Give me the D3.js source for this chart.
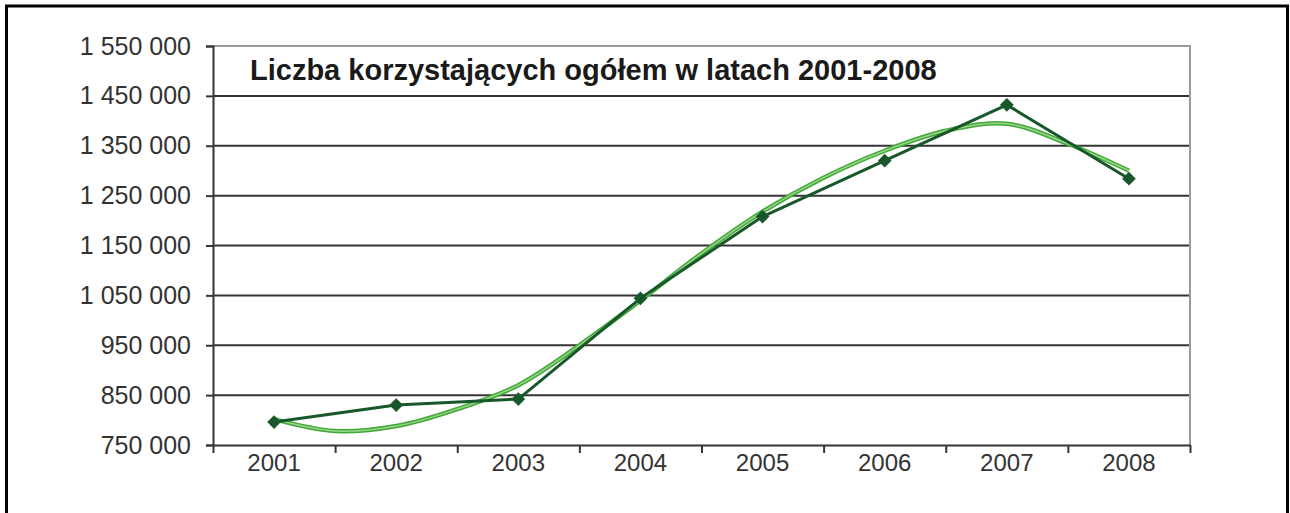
<!DOCTYPE html>
<html>
<head>
<meta charset="utf-8">
<script src="https://cdn.jsdelivr.net/npm/d3@7"></script>
<style>
  body { margin: 0; background: #fff; }
  svg { display: block; }
  .ylab, .xlab { font-family: "Liberation Sans", Arial, sans-serif; fill: #333; }
  .title { font-family: "Liberation Sans", Arial, sans-serif; font-weight: bold; fill: #1a1a1a; }
</style>
</head>
<body>
<div id="chart"></div>
<script>
// data
var years = [2001, 2002, 2003, 2004, 2005, 2006, 2007, 2008];
var users = [796000, 830000, 842000, 1044000, 1208000, 1320000, 1432000, 1284000];
// trend line (light green), read at every half year
var trendYears = [2001, 2001.5, 2002, 2002.5, 2003, 2003.5, 2004, 2004.5, 2005, 2005.5, 2006, 2006.5, 2007, 2007.5, 2008];
var trendValues = [802000, 778000, 788000, 822000, 870000, 950000, 1040000, 1134000, 1218000, 1286000, 1340000, 1380000, 1394000, 1354000, 1300000];
var yTicks = [750000, 850000, 950000, 1050000, 1150000, 1250000, 1350000, 1450000, 1550000];
var title = "Liczba korzystających ogółem w latach 2001-2008";

var width = 1290, height = 513;
var plotLeft = 213, plotRight = 1190, plotTop = 46, plotBottom = 445;

var svg = d3.select("#chart").append("svg")
  .attr("width", width)
  .attr("height", height);

// outer frame
svg.append("rect")
  .attr("x", 6.5).attr("y", 6)
  .attr("width", 1281).attr("height", 600)
  .attr("fill", "#fff")
  .attr("stroke", "#000")
  .attr("stroke-width", 3);

var x = d3.scaleLinear().domain([2000.5, 2008.5]).range([plotLeft, plotRight]);
var y = d3.scaleLinear().domain([750000, 1550000]).range([plotBottom, plotTop]);

var fmt = d3.formatLocale({decimal: ",", thousands: " ", grouping: [3], currency: ["", ""]}).format(",d");

// gridlines
svg.append("g").selectAll("line")
  .data(yTicks.filter(function (t) { return t > 750000 && t < 1550000; }))
  .enter().append("line")
  .attr("x1", plotLeft).attr("x2", plotRight)
  .attr("y1", function (d) { return y(d); })
  .attr("y2", function (d) { return y(d); })
  .attr("stroke", "#353535")
  .attr("stroke-width", 2);

// plot border top / right
svg.append("path")
  .attr("d", "M" + plotLeft + "," + plotTop + "H" + plotRight + "V" + plotBottom)
  .attr("fill", "none")
  .attr("stroke", "#9a9a9a")
  .attr("stroke-width", 2);

// y axis
var yAxis = svg.append("g")
  .attr("transform", "translate(" + plotLeft + ",0)")
  .call(d3.axisLeft(y).tickValues(yTicks).tickFormat(fmt).tickSize(7).tickPadding(15));
yAxis.select(".domain").attr("stroke", "#353535").attr("stroke-width", 2);
yAxis.selectAll(".tick line").attr("stroke", "#353535").attr("stroke-width", 2);
yAxis.selectAll(".tick text")
  .attr("class", "ylab")
  .attr("font-size", 25)
  .attr("fill", null);

// x axis (ticks between categories)
var xTicks = d3.range(2000.5, 2009, 1);
var xAxis = svg.append("g")
  .attr("transform", "translate(0," + plotBottom + ")")
  .call(d3.axisBottom(x).tickValues(xTicks).tickFormat("").tickSize(8).tickSizeOuter(0));
xAxis.select(".domain").attr("stroke", "#353535").attr("stroke-width", 2);
xAxis.selectAll(".tick line").attr("stroke", "#353535").attr("stroke-width", 2);

svg.append("g").selectAll("text")
  .data(years)
  .enter().append("text")
  .attr("class", "xlab")
  .attr("x", function (d) { return x(d); })
  .attr("y", 471)
  .attr("text-anchor", "middle")
  .attr("font-size", 24)
  .text(function (d) { return d; });

// title
svg.append("text")
  .attr("class", "title")
  .attr("x", 250).attr("y", 80)
  .attr("font-size", 29)
  .text(title);

// trend line
var trend = trendYears.map(function (t, i) { return [x(t), y(trendValues[i])]; });
var trendLine = d3.line().curve(d3.curveCatmullRom);
svg.append("path")
  .attr("d", trendLine(trend))
  .attr("fill", "none")
  .attr("stroke", "#45a83c")
  .attr("stroke-width", 4.5)
  .attr("stroke-linejoin", "round");
svg.append("path")
  .attr("d", trendLine(trend))
  .attr("fill", "none")
  .attr("stroke", "#95d585")
  .attr("stroke-width", 1.5);

// data line
var dataLine = d3.line()
  .x(function (d, i) { return x(years[i]); })
  .y(function (d) { return y(d); });
svg.append("path")
  .attr("d", dataLine(users))
  .attr("fill", "none")
  .attr("stroke", "#17572a")
  .attr("stroke-width", 3)
  .attr("stroke-linejoin", "round");

svg.append("g").selectAll("path")
  .data(users)
  .enter().append("path")
  .attr("d", d3.symbol(d3.symbolDiamond2, 120))
  .attr("transform", function (d, i) { return "translate(" + x(years[i]) + "," + y(d) + ")"; })
  .attr("fill", "#17572a");
</script>
</body>
</html>
